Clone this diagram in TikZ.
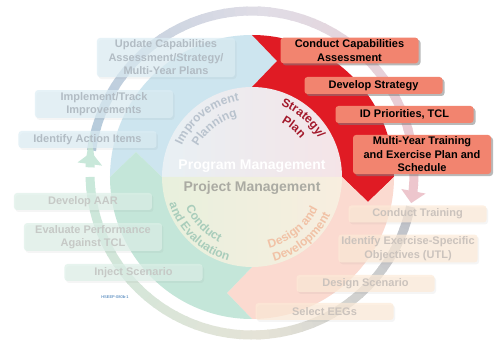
\documentclass[tikz,border=0pt]{standalone}
\usepackage{fontspec}
\setmainfont{Liberation Sans}
\usepackage{tikz}
\usetikzlibrary{positioning,arrows.meta,shadows,decorations.text}

\definecolor{quadblue}{HTML}{CDE5EF}
\definecolor{quadred}{HTML}{E01B24}
\definecolor{quadpink}{HTML}{FBDAD0}
\definecolor{quadgreen}{HTML}{C4E6D9}
\definecolor{innerblue}{HTML}{E8F0F4}
\definecolor{innerpink}{HTML}{F5E4E7}
\definecolor{innergreen}{HTML}{E8F0DD}
\definecolor{innerpeach}{HTML}{F8EEDF}
\definecolor{boxsalmon}{HTML}{F2846F}
\definecolor{boxblue}{HTML}{DCEDF4}
\definecolor{boxgreen}{HTML}{DDF0E8}
\definecolor{boxpeach}{HTML}{FDEBD8}
\definecolor{txtblue}{HTML}{B2BCC4}
\definecolor{txtgreen}{HTML}{C6C9C6}
\definecolor{txtpeach}{HTML}{CBC3BD}
\definecolor{ringblue}{HTML}{B4CADB}
\definecolor{ringlav}{HTML}{E0DDE6}
\definecolor{ringpink}{HTML}{EDC6CD}
\definecolor{ringgray}{HTML}{BDC0C8}
\definecolor{ringbeige}{HTML}{E5E3D7}
\definecolor{ringgreen}{HTML}{C9E8DA}
\definecolor{impcol}{HTML}{B9C3CE}
\definecolor{stratcol}{HTML}{A3192B}
\definecolor{condcol}{HTML}{A9CDBB}
\definecolor{descol}{HTML}{F1C2A6}
\definecolor{projgray}{HTML}{ABABA3}
\definecolor{codeblue}{HTML}{3070B0}

\begin{document}
\begin{tikzpicture}[x=1pt,y=1pt,
    itembox/.style={rounded corners=3pt, minimum width=138pt, minimum height=17pt,
      inner xsep=3pt, inner ysep=2pt, align=center,
      font=\bfseries\fontsize{11}{13.5}\selectfont},
    strongbox/.style={itembox, fill=boxsalmon,
      drop shadow={opacity=0.55, shadow xshift=2pt, shadow yshift=-2pt}},
    fadebox/.style={itembox, fill opacity=0.7, text opacity=1,
      drop shadow={opacity=0.08, shadow xshift=1.5pt, shadow yshift=-2pt}},
    blueitem/.style={fadebox, fill=boxblue, text=txtblue},
    greenitem/.style={fadebox, fill=boxgreen, text=txtgreen},
    peachitem/.style={fadebox, fill=boxpeach, text=txtpeach},
    ringseg/.style={line width=9pt},
    midword/.style={font=\bfseries\fontsize{14}{14}\selectfont}]

  \fill[white] (-252,-170) rectangle (248,177);
  \useasboundingbox (-252,-170) rectangle (248,177);

  % four quadrants, each one pointing into the next
  \fill[quadblue] (0,0) -- (-90,0) -- (-116,25) -- (-142,0)
    arc[start angle=180, end angle=90, radius=142] -- (25,116) -- (0,90) -- cycle;
  \fill[quadred] (0,0) -- (0,90) -- (25,116) -- (0,142)
    arc[start angle=90, end angle=0, radius=142] -- (116,-25) -- (90,0) -- cycle;
  \fill[quadpink] (0,0) -- (90,0) -- (116,-25) -- (142,0)
    arc[start angle=0, end angle=-90, radius=142] -- (-25,-116) -- (0,-90) -- cycle;
  \fill[quadgreen] (0,0) -- (0,-90) -- (-25,-116) -- (0,-142)
    arc[start angle=-90, end angle=-180, radius=142] -- (-116,25) -- (-90,0) -- cycle;

  % inner circle
  \shade[left color=innerblue, right color=innerpink]
    (-90,0) arc[start angle=180, end angle=0, radius=90] -- cycle;
  \shade[left color=innergreen, right color=innerpeach]
    (90,0) arc[start angle=0, end angle=-180, radius=90] -- cycle;

  \node (prog) [midword, text=white] at (0,11) {Program Management};
  \node (proj) [midword, text=projgray] at (0,-11) {Project Management};

  % phase names round the inner circle
  \path[decorate, decoration={text along path, text align=center, text color=impcol,
      text={|\bfseries\fontsize{12}{12}\selectfont|Improvement}}]
    (172:77) arc[start angle=172, end angle=83, radius=77];
  \path[decorate, decoration={text along path, text align=center, text color=impcol,
      text={|\bfseries\fontsize{12}{12}\selectfont|Planning}}]
    (172:62) arc[start angle=172, end angle=82, radius=62];
  \path[decorate, decoration={text along path, text align=center, text color=stratcol,
      text={|\bfseries\fontsize{12}{12}\selectfont|Strategy/}}]
    (94:77) arc[start angle=94, end angle=4, radius=77];
  \path[decorate, decoration={text along path, text align=center, text color=stratcol,
      text={|\bfseries\fontsize{12}{12}\selectfont|Plan}}]
    (95:62) arc[start angle=95, end angle=5, radius=62];
  \path[decorate, decoration={text along path, text align=center, text color=condcol,
      text={|\bfseries\fontsize{12}{12}\selectfont|Conduct}}]
    (179:73) arc[start angle=179, end angle=269, radius=73];
  \path[decorate, decoration={text along path, text align=center, text color=condcol,
      text={|\bfseries\fontsize{12}{12}\selectfont|and Evaluation}}]
    (176:87) arc[start angle=176, end angle=276, radius=87];
  \path[decorate, decoration={text along path, text align=center, text color=descol,
      text={|\bfseries\fontsize{12}{12}\selectfont|Design and}}]
    (264:73) arc[start angle=264, end angle=354, radius=73];
  \path[decorate, decoration={text along path, text align=center, text color=descol,
      text={|\bfseries\fontsize{12}{12}\selectfont|Development}}]
    (264.5:87) arc[start angle=264.5, end angle=354.5, radius=87];

  % outer ring in two arrows
  \begin{scope}[shift={(0,4)}]
    \foreach \i in {0,...,21}{
      \pgfmathsetmacro\aa{172-4*\i}
      \pgfmathsetmacro\bb{\aa-4.6}
      \pgfmathtruncatemacro\pp{100*\i/21}
      \draw[ringseg, draw=ringlav!\pp!ringblue] (\aa:162) arc[start angle=\aa, end angle=\bb, radius=162];
    }
    \foreach \i in {0,...,22}{
      \pgfmathsetmacro\aa{88-4*\i}
      \pgfmathsetmacro\bb{\aa-4.6}
      \pgfmathtruncatemacro\pp{100*\i/22}
      \draw[ringseg, draw=ringpink!\pp!ringlav] (\aa:162) arc[start angle=\aa, end angle=\bb, radius=162];
    }
    \draw[ringseg, draw=ringpink, -{Triangle[width=24pt,length=12pt]}]
      (-4:162) arc[start angle=-4, end angle=-10.7, radius=162];

    \foreach \i in {0,...,18}{
      \pgfmathsetmacro\aa{-12-4*\i}
      \pgfmathsetmacro\bb{\aa-4.6}
      \pgfmathtruncatemacro\pp{100*\i/18}
      \draw[ringseg, draw=ringbeige!\pp!ringgray] (\aa:162) arc[start angle=\aa, end angle=\bb, radius=162];
    }
    \foreach \i in {0,...,22}{
      \pgfmathsetmacro\aa{-86-4*\i}
      \pgfmathsetmacro\bb{max(\aa-4.6,-183)}
      \pgfmathtruncatemacro\pp{100*\i/22}
      \draw[ringseg, draw=ringgreen!\pp!ringbeige] (\aa:162) arc[start angle=\aa, end angle=\bb, radius=162];
    }
    \draw[ringseg, draw=ringgreen, -{Triangle[width=24pt,length=12pt]}]
      (-182:162) arc[start angle=-182, end angle=-187.4, radius=162];
  \end{scope}

  % improvement planning
  \node (update) [blueitem] at (-86,119.5) {Update Capabilities\\Assessment/Strategy/\\Multi-Year Plans};
  \node (track) [blueitem] at (-148,73) {Implement/Track\\Improvements};
  \node (action) [blueitem] at (-164.5,37.5) {Identify Action Items};

  % conduct and evaluation
  \node (aar) [greenitem] at (-169,-24.5) {Develop AAR};
  \node (evaluate) [greenitem] at (-159,-60) {Evaluate Performance\\Against TCL};
  \node (inject) [greenitem] at (-118.5,-95.5) {Inject Scenario};
  \node (code) [font=\fontsize{4}{4}\selectfont, text=codeblue] at (-137,-120) {HSEEP-080b-1};

  % design and development
  \node (training) [peachitem] at (165.5,-37) {Conduct Training};
  \node (objectives) [peachitem] at (156,-71.5) {Identify Exercise-Specific\\Objectives (UTL)};
  \node (scenario) [peachitem] at (113.5,-106.5) {Design Scenario};
  \node (eegs) [peachitem] at (72.5,-134.5) {Select EEGs};

  % strategy / plan
  \node (assess) [strongbox] at (97.5,126.5) {Conduct Capabilities\\Assessment};
  \node (strategy) [strongbox] at (121.5,91.5) {Develop Strategy};
  \node (priorities) [strongbox] at (152.5,62.5) {ID Priorities, TCL};
  \node (plan) [strongbox] at (170,22.5) {Multi-Year Training\\and Exercise Plan and\\Schedule};
\end{tikzpicture}
\end{document}
